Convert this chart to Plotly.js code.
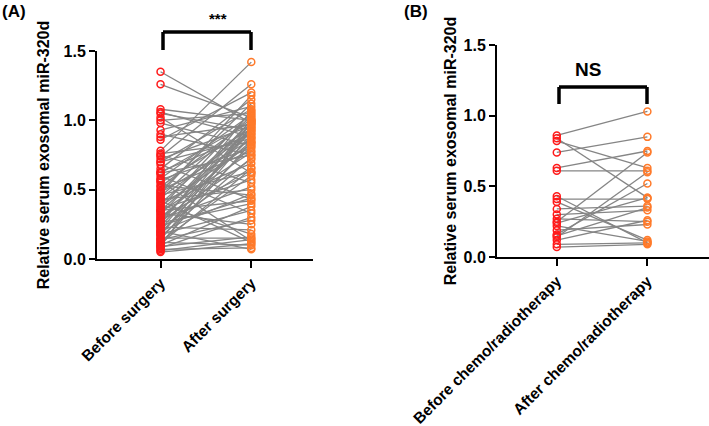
<!DOCTYPE html>
<html><head><meta charset="utf-8">
<script src="https://cdn.plot.ly/plotly-3.0.1.min.js"></script>
</head><body style="margin:0;background:#fff">
<div id="chart" style="width:709px;height:426px"></div>
<script>
const groupsA = ['Before surgery', 'After surgery'];
const beforeSurgery = [1.35, 1.26, 1.08, 1.06, 1.05, 1.02, 1.00, 0.98, 0.93, 0.90, 0.88, 0.86, 0.78, 0.76, 0.75, 0.74, 0.72, 0.70, 0.68, 0.65,
  0.63, 0.62, 0.60, 0.58, 0.57, 0.55, 0.53, 0.52, 0.50, 0.49, 0.48, 0.46, 0.45, 0.44, 0.42, 0.41, 0.40, 0.38, 0.37, 0.36,
  0.35, 0.34, 0.33, 0.32, 0.30, 0.29, 0.28, 0.27, 0.26, 0.25, 0.24, 0.23, 0.22, 0.21, 0.20, 0.19, 0.18, 0.17, 0.16, 0.15,
  0.14, 0.13, 0.12, 0.11, 0.10, 0.09, 0.08, 0.07, 0.06, 0.05, 0.62, 0.43, 0.39, 0.31, 0.27, 0.24, 0.20, 0.18, 0.14, 0.11,
  0.09, 0.70, 0.56, 0.47, 0.35];
const afterSurgery = [0.98, 1.02, 1.00, 0.88, 0.93, 0.62, 1.05, 0.82, 1.10, 0.75, 0.97, 1.20, 1.42, 0.84, 0.55, 1.26, 0.96, 1.08, 0.43, 1.15,
  0.90, 0.99, 0.33, 1.04, 0.80, 0.94, 0.46, 1.01, 0.78, 1.12, 0.86, 0.63, 1.03, 0.92, 0.12, 0.69, 0.97, 0.83, 1.06, 0.57,
  0.91, 0.77, 0.25, 1.00, 0.85, 0.52, 0.95, 0.72, 0.40, 1.07, 0.88, 0.21, 0.66, 0.98, 0.47, 0.81, 0.35, 0.95, 0.73, 0.15,
  0.90, 0.60, 0.10, 0.84, 0.38, 0.99, 0.30, 0.08, 0.14, 0.11, 0.75, 0.50, 0.18, 0.62, 1.00, 0.44, 0.07, 0.93, 0.28, 0.65,
  0.16, 0.87, 0.13, 1.18, 0.42];

const groupsB = ['Before chemo/radiotherapy', 'After chemo/radiotherapy'];
const beforeChemo = [0.86, 0.84, 0.82, 0.74, 0.63, 0.61, 0.43, 0.41, 0.39, 0.34, 0.30, 0.27, 0.25, 0.24, 0.22, 0.19, 0.16, 0.14, 0.12, 0.09, 0.07, 0.15];
const afterChemo  = [1.03, 0.42, 0.63, 0.85, 0.75, 0.61, 0.10, 0.41, 0.12, 0.36, 0.33, 0.25, 0.74, 0.42, 0.11, 0.23, 0.52, 0.60, 0.26, 0.10, 0.09, 0.35];

const yTicks = [0, 0.5, 1.0, 1.5];
const yTitle = 'Relative serum exosomal miR-320d';
const sigA = '***';
const sigB = 'NS';

const RED = '#FF1A1A', ORANGE = '#FF7A2A', GRAY = '#858585';
const FAM = 'Arial, "Liberation Sans", sans-serif';

function lines(groups, b, a, xa, ya) {
  const x = [], y = [];
  for (let i = 0; i < b.length; i++) { x.push(groups[0], groups[1], null); y.push(b[i], a[i], null); }
  return {x, y, xaxis: xa, yaxis: ya, type: 'scatter', mode: 'lines', connectgaps: false,
    line: {color: GRAY, width: 1.3}, hoverinfo: 'skip', showlegend: false, cliponaxis: false};
}
function pts(group, vals, color, xa, ya) {
  return {x: vals.map(() => group), y: vals, xaxis: xa, yaxis: ya, type: 'scatter', mode: 'markers',
    marker: {symbol: 'circle-open', size: 7, color: color, line: {width: 1.5, color: color}},
    showlegend: false, cliponaxis: false};
}

const data = [
  lines(groupsA, beforeSurgery, afterSurgery, 'x', 'y'),
  pts(groupsA[0], beforeSurgery, RED, 'x', 'y'),
  pts(groupsA[1], afterSurgery, ORANGE, 'x', 'y'),
  lines(groupsB, beforeChemo, afterChemo, 'x2', 'y2'),
  pts(groupsB[0], beforeChemo, RED, 'x2', 'y2'),
  pts(groupsB[1], afterChemo, ORANGE, 'x2', 'y2')
];

const W = 709, H = 426;
function xax(dom, groups, anchor) {
  return {domain: [dom[0] / W, dom[1] / W], anchor: anchor, type: 'category', categoryorder: 'array', categoryarray: groups,
    range: [-0.70, 1.68], showline: true, linewidth: 2, linecolor: '#000', ticks: 'outside', ticklen: 7, tickwidth: 2,
    tickcolor: '#000', tickangle: -45, showgrid: false, zeroline: false,
    tickfont: {family: FAM, size: 15.5, color: '#000', weight: 'bold'}};
}
function yax(top, bottom, anchor, standoff) {
  return {domain: [(H - bottom) / H, (H - top) / H], anchor: anchor, range: [0, 1.5], tickvals: yTicks, tickformat: '.1f',
    showline: true, linewidth: 2, linecolor: '#000', ticks: 'outside', ticklen: 6, tickwidth: 2, tickcolor: '#000',
    showgrid: false, zeroline: false, tickfont: {family: FAM, size: 16, color: '#000', weight: 'bold'},
    title: {text: yTitle, standoff: standoff, font: {family: FAM, size: 16, color: '#000', weight: 'bold'}}};
}

// bracket in paper coordinates (pixels converted)
function bracketPx(x0, x1, top, leg) {
  const s = {type: 'line', xref: 'paper', yref: 'paper', line: {color: '#000', width: 3.5}};
  const X = v => v / W, Y = v => (H - v) / H;
  return [
    Object.assign({}, s, {x0: X(x0), x1: X(x1), y0: Y(top), y1: Y(top)}),
    Object.assign({}, s, {x0: X(x0), x1: X(x0), y0: Y(top), y1: Y(leg)}),
    Object.assign({}, s, {x0: X(x1), x1: X(x1), y0: Y(top), y1: Y(leg)})
  ];
}

const layout = {
  width: W, height: H, margin: {l: 0, r: 0, t: 0, b: 0}, paper_bgcolor: '#fff', plot_bgcolor: 'rgba(0,0,0,0)',
  showlegend: false, font: {family: FAM, color: '#000'},
  xaxis: xax([97, 313], groupsA, 'y'),
  yaxis: yax(51, 259, 'x', 10),
  xaxis2: Object.assign(xax([497, 709], groupsB, 'y2'), {range: [-0.66, 1.68]}),
  yaxis2: yax(45, 257, 'x2', 3),
  shapes: [].concat(bracketPx(163, 251, 32, 50), bracketPx(559, 647, 87, 104)),
  annotations: [
    {xref: 'paper', yref: 'paper', x: 207 / W, y: (H - 29) / H, text: sigA, showarrow: false, yanchor: 'bottom',
      font: {family: FAM, size: 15, color: '#000', weight: 'bold'}},
    {xref: 'paper', yref: 'paper', x: 603 / W, y: (H - 82) / H, text: sigB, showarrow: false, yanchor: 'bottom',
      font: {family: FAM, size: 19, color: '#000', weight: 'bold'}},
    {xref: 'paper', yref: 'paper', x: 0, y: 1, xanchor: 'left', yanchor: 'top', text: '(A)', showarrow: false,
      font: {family: FAM, size: 17, color: '#000', weight: 'bold'}},
    {xref: 'paper', yref: 'paper', x: 402 / W, y: 1, xanchor: 'left', yanchor: 'top', text: '(B)', showarrow: false,
      font: {family: FAM, size: 17, color: '#000', weight: 'bold'}}
  ]
};

Plotly.newPlot('chart', data, layout, {staticPlot: true, displayModeBar: false});
</script>
</body></html>
